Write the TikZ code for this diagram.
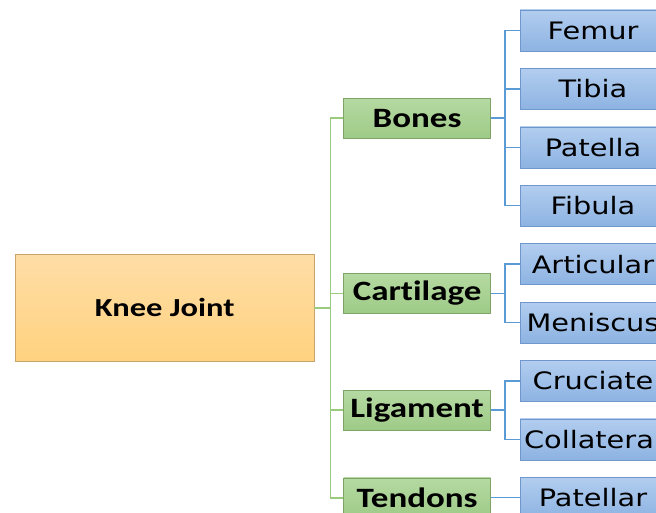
\documentclass[tikz,border=0pt]{standalone}
\usepackage{fontspec}
\usepackage{graphicx}
\setmainfont{DejaVu Sans}
\newfontfamily\calibri[Ligatures=NoCommon]{Carlito}
\usetikzlibrary{positioning,calc}
\definecolor{roottop}{HTML}{FEDDA6}
\definecolor{rootbot}{HTML}{FFD27F}
\definecolor{rootline}{HTML}{C9A46A}
\definecolor{greentop}{HTML}{B5D9A2}
\definecolor{greenbot}{HTML}{9ECB87}
\definecolor{greenline}{HTML}{7FA468}
\definecolor{bluetop}{HTML}{B2CDEF}
\definecolor{bluebot}{HTML}{8DB3E2}
\definecolor{blueline}{HTML}{6F97CC}
\definecolor{trunkline}{HTML}{9ACA7C}
\definecolor{twigline}{HTML}{5B9BD5}
\newcommand{\xstretch}[2]{\scalebox{#1}[1]{#2}}

\begin{document}
\begin{tikzpicture}[
    node distance=17pt and 29pt,
    root/.style={draw=rootline, top color=roottop, bottom color=rootbot,
                 minimum width=299pt, minimum height=107pt, inner sep=0pt,
                 font=\calibri\bfseries\fontsize{26}{30}\selectfont},
    branch/.style={draw=greenline, top color=greentop, bottom color=greenbot,
                   minimum width=147pt, minimum height=40pt, inner sep=0pt,
                   font=\calibri\bfseries\fontsize{28}{32}\selectfont},
    leaf/.style={draw=blueline, top color=bluetop, bottom color=bluebot,
                 minimum width=146pt, minimum height=41pt, inner sep=0pt,
                 font=\fontsize{24}{28}\selectfont},
    trunk/.style={draw=trunkline, line width=1.6pt},
    twig/.style={draw=twigline, line width=1.5pt}
]
    \clip (0,0) rectangle (656pt,-513pt);

    % leaves, top to bottom
    \node[leaf] at (593pt,-30.5pt) (femur) {\xstretch{1.2}{Femur}};
    \node[leaf, below=of femur] (tibia) {\xstretch{1.2}{Tibia}};
    \node[leaf, below=of tibia] (patella) {\xstretch{1.2}{Patella}};
    \node[leaf, below=of patella] (fibula) {\xstretch{1.2}{Fibula}};
    \node[leaf, below=of fibula] (articular) {\xstretch{1.2}{Articular}};
    \node[leaf, below=of articular] (meniscus) {\xstretch{1.2}{Meniscus}};
    \node[leaf, below=of meniscus] (cruciate) {\xstretch{1.2}{Cruciate}};
    \node[leaf, below=of cruciate] (collateral) {\xstretch{1.2}{Collateral}};
    \node[leaf, below=of collateral] (patellar) {\xstretch{1.2}{Patellar}};

    % branches
    \coordinate (bmid) at ($(tibia.west)!0.5!(patella.west)$);
    \coordinate (cmid) at ($(articular.west)!0.5!(meniscus.west)$);
    \coordinate (lmid) at ($(cruciate.west)!0.5!(collateral.west)$);
    \node[branch, left=of bmid] (bones) {\xstretch{1.25}{Bones}};
    \node[branch, left=of cmid] (cartilage) {\xstretch{1.25}{Cartilage}};
    \node[branch, left=of lmid] (ligament) {\xstretch{1.25}{Ligament}};
    \node[branch, left=of patellar] (tendons) {\xstretch{1.25}{Tendons}};

    % root
    \coordinate (rmid) at ($(bones.west)!0.5!(tendons.west)$);
    \node[root, left=of rmid] (knee) {\xstretch{1.25}{Knee Joint}};

    \foreach \b in {bones,cartilage,ligament,tendons}
        \draw[trunk] (knee.east) -- ++(16pt,0) |- (\b.west);
    \foreach \l in {femur,tibia,patella,fibula}
        \draw[twig] (bones.east) -- ++(14pt,0) |- (\l.west);
    \foreach \l in {articular,meniscus}
        \draw[twig] (cartilage.east) -- ++(14pt,0) |- (\l.west);
    \foreach \l in {cruciate,collateral}
        \draw[twig] (ligament.east) -- ++(14pt,0) |- (\l.west);
    \draw[twig] (tendons.east) -- (patellar.west);
\end{tikzpicture}
\end{document}
